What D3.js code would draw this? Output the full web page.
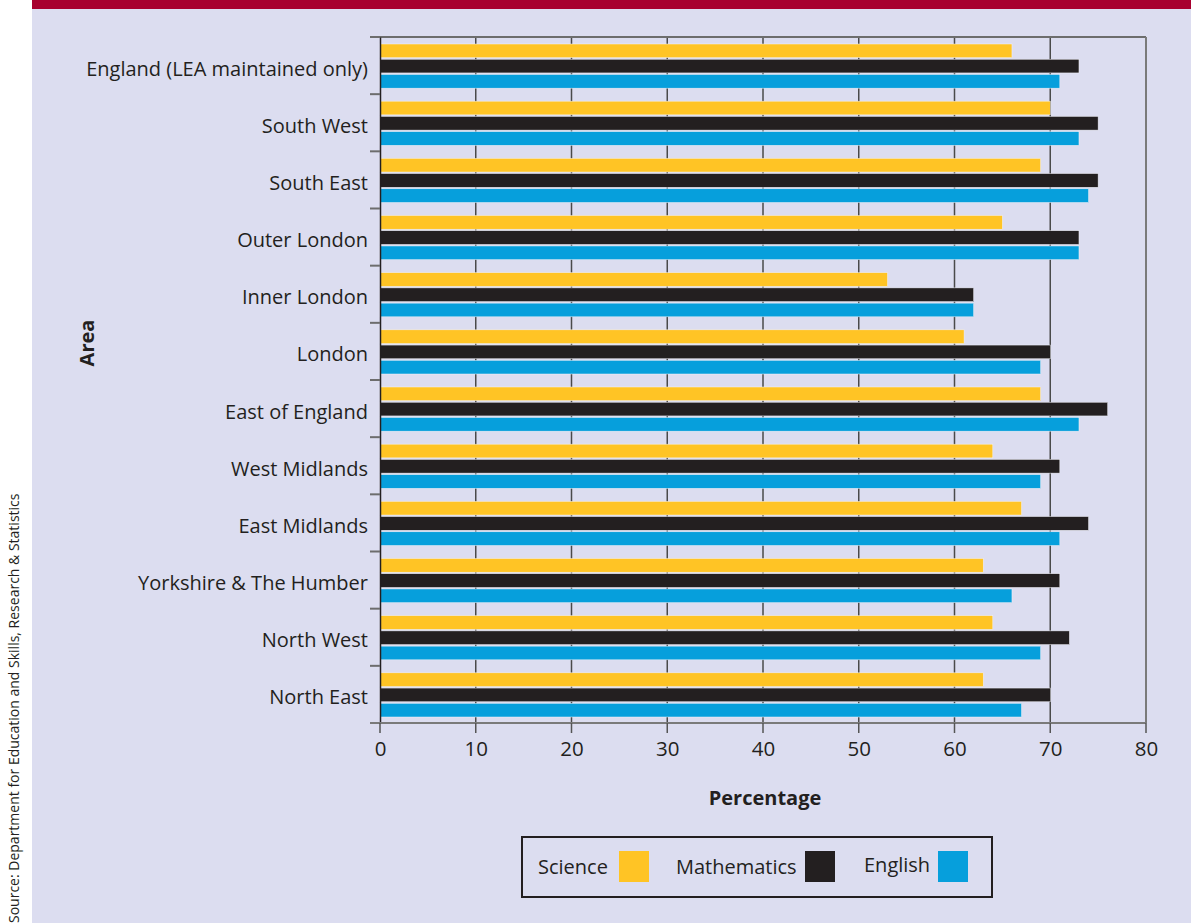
<!DOCTYPE html>
<html><head><meta charset="utf-8">
<script src="https://cdn.jsdelivr.net/npm/d3@7"></script>
<style>body{margin:0;background:#fff}svg{display:block}text{font-family:"Open Sans","Noto Sans",sans-serif;fill:#231F20}</style>
</head><body><svg id="c" width="1191" height="923"></svg>
<script>
const areas = ["England (LEA maintained only)","South West","South East","Outer London","Inner London","London","East of England","West Midlands","East Midlands","Yorkshire & The Humber","North West","North East"];
const science = [66,70,69,65,53,61,69,64,67,63,64,63];
const mathematics = [73,75,75,73,62,70,76,71,74,71,72,70];
const english = [71,73,74,73,62,69,73,69,71,66,69,67];
const seriesNames = ["Science","Mathematics","English"];
const seriesColors = ["#FFC425","#231F20","#069FDC"];
const xTicks = [0,10,20,30,40,50,60,70,80];

const svg = d3.select("#c");
svg.append("rect").attr("x",32).attr("y",0).attr("width",1159).attr("height",923).attr("fill","#DCDDF0");
svg.append("rect").attr("x",32).attr("y",0).attr("width",1159).attr("height",9).attr("fill","#A8002F");

const L=380,R=1146,T=37,B=723;
const x = d3.scaleLinear().domain([0,80]).range([L,R]);
const y = d3.scaleBand().domain(areas).range([T,B]);
const inner = d3.scaleBand().domain(seriesNames).range([7,y.bandwidth()-6]).paddingInner(0.1);

const g = svg.append("g");
g.selectAll("line.grid").data(xTicks.slice(1,-1)).join("line")
 .attr("x1",d=>x(d)).attr("x2",d=>x(d)).attr("y1",T).attr("y2",B)
 .attr("stroke","#4a4a4a").attr("stroke-width",1.5);
g.append("line").attr("x1",370).attr("x2",R).attr("y1",T).attr("y2",T).attr("stroke","#6d6d6d").attr("stroke-width",2);
g.append("line").attr("x1",R).attr("x2",R).attr("y1",T).attr("y2",B).attr("stroke","#7a7a7a").attr("stroke-width",2);

const data = [science,mathematics,english];
areas.forEach((a,i)=>{
  seriesNames.forEach((s,j)=>{
    g.append("rect").attr("x",x(0)).attr("y",y(a)+inner(s))
     .attr("width",x(data[j][i])-x(0)).attr("height",inner.bandwidth())
     .attr("fill",seriesColors[j]).attr("stroke","#f2f2f8").attr("stroke-width",0.5);
  });
});

const yAxis = d3.axisLeft(y).tickSize(0).tickPadding(12);
const ya = svg.append("g").attr("transform",`translate(${L},0)`).call(yAxis);
ya.select(".domain").attr("stroke","#231F20").attr("stroke-width",1.5);
ya.selectAll("text").style("font-size","20px").attr("fill","#231F20").attr("dy","0.5em");
svg.selectAll("line.ct").data(areas.map(a=>y(a)).concat([B])).join("line")
 .attr("x1",370).attr("x2",L).attr("y1",d=>d).attr("y2",d=>d).attr("stroke","#6d6d6d").attr("stroke-width",2);

const xAxis = d3.axisBottom(x).tickValues(xTicks).tickSize(0).tickPadding(18);
const xa = svg.append("g").attr("transform",`translate(0,${B})`).call(xAxis);
xa.select(".domain").remove();
xa.selectAll("text").style("font-size","20.5px").attr("fill","#231F20");
svg.append("line").attr("x1",370).attr("x2",R).attr("y1",B).attr("y2",B).attr("stroke","#7a7a7a").attr("stroke-width",2);
svg.selectAll("line.xt").data(xTicks).join("line").attr("x1",d=>x(d)).attr("x2",d=>x(d)).attr("y1",B).attr("y2",B+10).attr("stroke","#555").attr("stroke-width",1.5);

svg.append("text").attr("x",765).attr("y",805).attr("text-anchor","middle").style("font-size","20px").style("font-weight","bold").text("Percentage");
svg.append("text").attr("transform","translate(94,343) rotate(-90)").attr("text-anchor","middle").style("font-size","20px").style("font-weight","bold").text("Area");
svg.append("text").attr("transform","translate(19,923) rotate(-90)").attr("text-anchor","start").style("font-size","14px").attr("fill","#333").text("Source: Department for Education and Skills, Research & Statistics");

svg.append("rect").attr("x",522).attr("y",837).attr("width",470).attr("height",60).attr("fill","none").attr("stroke","#231F20").attr("stroke-width",2);
const lx=[[538,619],[676,805],[864,938]];
seriesNames.forEach((s,j)=>{
  svg.append("text").attr("x",lx[j][0]).attr("y",j===2?872:874).style("font-size","20px").text(s);
  svg.append("rect").attr("x",lx[j][1]).attr("y",851).attr("width",30).attr("height",31).attr("fill",seriesColors[j]);
});
</script></body></html>
